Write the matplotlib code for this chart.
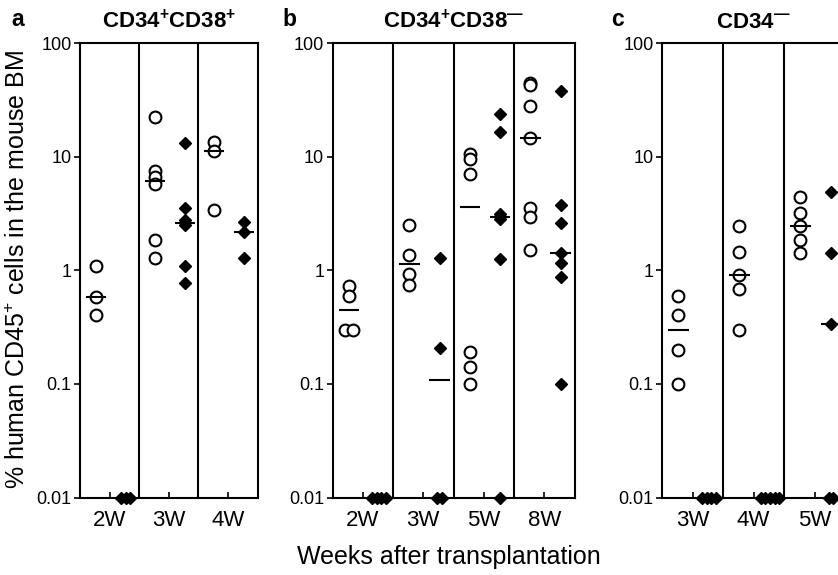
import matplotlib
matplotlib.use("Agg")
import matplotlib.pyplot as plt
import numpy as np
from matplotlib.ticker import FixedLocator, FuncFormatter, NullLocator

plt.rcParams["font.family"] = ["Liberation Sans", "DejaVu Sans"]
plt.rcParams["mathtext.fontset"] = "custom"
plt.rcParams["mathtext.rm"] = "Liberation Sans"
plt.rcParams["mathtext.bf"] = "Liberation Sans:bold"
plt.rcParams["mathtext.it"] = "Liberation Sans:italic"

# values (% human CD45+ cells, 0.01 = not detected)
a_weeks = ["2W", "3W", "4W"]
a_circles = [[1.09, 0.58, 0.40],
             [22.3, 7.5, 6.6, 5.7, 1.86, 1.29],
             [13.5, 11.2, 3.4]]
a_diamonds = [[0.01, 0.01, 0.01],
              [13.1, 3.5, 2.75, 2.5, 1.08, 0.77],
              [2.65, 2.15, 1.27]]

b_weeks = ["2W", "3W", "5W", "8W"]
b_circles = [[0.72, 0.59, 0.30, 0.30],
             [2.5, 1.36, 0.92, 0.74],
             [10.6, 9.5, 7.0, 0.19, 0.14, 0.10],
             [44.7, 42.7, 27.9, 14.5, 3.5, 2.96, 1.51]]
b_diamonds = [[0.01, 0.01, 0.01, 0.01],
              [1.27, 0.205, 0.01, 0.01],
              [23.7, 16.6, 3.1, 2.8, 1.25, 0.01],
              [38.0, 3.75, 2.62, 1.41, 1.15, 0.88, 0.10]]

c_weeks = ["3W", "4W", "5W"]
c_circles = [[0.59, 0.40, 0.20, 0.10],
             [2.45, 1.46, 0.91, 0.69, 0.30],
             [4.4, 3.2, 2.45, 1.84, 1.43]]
c_diamonds = [[0.01, 0.01, 0.01, 0.01],
              [0.01, 0.01, 0.01, 0.01, 0.01],
              [4.9, 1.41, 0.336, 0.01, 0.01]]

y_ticks = [0.01, 0.1, 1, 10, 100]

CIRCLE_X = -0.23
DIAMOND_X = 0.27
LW = 1.5
W, H = 838, 575


def spread(values, step):
    # put repeated values side by side
    values = np.asarray(values, dtype=float)
    offs = np.zeros(len(values))
    for v in np.unique(values):
        idx = np.where(values == v)[0]
        if len(idx) > 1:
            offs[idx] = (np.arange(len(idx)) - (len(idx) - 1) / 2) * step
    return offs


def draw_panel(ax, weeks, circles, diamonds):
    n = len(weeks)
    for i in range(n):
        c = np.asarray(circles[i])
        d = np.asarray(diamonds[i])
        ax.plot(i + CIRCLE_X + spread(c, 0.13), c, "o", ls="none", mfc="white",
                mec="black", ms=8.5, mew=1.5, clip_on=False, zorder=3)
        ax.plot(i + DIAMOND_X + spread(d, 0.075), d, "D", ls="none", color="black",
                ms=5.8, clip_on=False, zorder=3)
        for x0, vals in ((CIRCLE_X, c), (DIAMOND_X, d)):
            m = np.median(vals)
            ax.plot([i + x0 - 0.17, i + x0 + 0.17], [m, m], color="black",
                    lw=LW, solid_capstyle="butt", zorder=4)
    for i in range(n - 1):
        ax.axvline(i + 0.5, color="black", lw=LW, zorder=2)

    ax.set_yscale("log")
    ax.set_ylim(0.01, 100)
    ax.set_xlim(-0.5, n - 0.5)
    ax.set_xticks(range(n))
    ax.set_xticklabels(weeks)
    ax.yaxis.set_major_locator(FixedLocator(y_ticks))
    ax.yaxis.set_major_formatter(FuncFormatter(lambda v, p: f"{v:g}"))
    ax.yaxis.set_minor_locator(NullLocator())
    ax.tick_params(axis="x", direction="in", length=4, width=1.2, pad=9,
                   labelsize=16, top=False)
    ax.tick_params(axis="y", direction="out", length=4, width=1.2, pad=2,
                   labelsize=13)
    for s in ax.spines.values():
        s.set_linewidth(LW)


def add_axes_px(fig, x0, x1, y0, y1):
    return fig.add_axes([x0 / W, 1 - y1 / H, (x1 - x0) / W, (y1 - y0) / H])


fig = plt.figure(figsize=(W / 100, H / 100), dpi=100)

panels = [
    ("a", "$\\mathbf{CD34^{+}CD38^{+}}$", 80, 257.5, a_weeks, a_circles, a_diamonds, 18),
    ("b", "$\\mathbf{CD34^{+}CD38^{—}}$", 332.5, 574.5, b_weeks, b_circles, b_diamonds, 289),
    ("c", "$\\mathbf{CD34^{—}}$", 662, 845, c_weeks, c_circles, c_diamonds, 617),
]
for letter, title, x0, x1, weeks, circ, diam, lx in panels:
    ax = add_axes_px(fig, x0, x1, 43, 497.5)
    draw_panel(ax, weeks, circ, diam)
    fig.text(lx / W, 1 - 26 / H, letter, fontsize=16.5, fontweight="bold",
             ha="center", va="baseline")
    fig.text((x0 + x1) / 2 / W, 1 - 28 / H, title, fontsize=16,
             ha="center", va="baseline")

fig.text(18 / W, 1 - 269 / H, "% human CD45$^{+}$ cells in the mouse BM",
         rotation=90, fontsize=18, ha="center", va="center")
fig.text(449 / W, 1 - 557 / H, "Weeks after transplantation", fontsize=18,
         ha="center", va="center")

fig.savefig("out.png", dpi=100)
